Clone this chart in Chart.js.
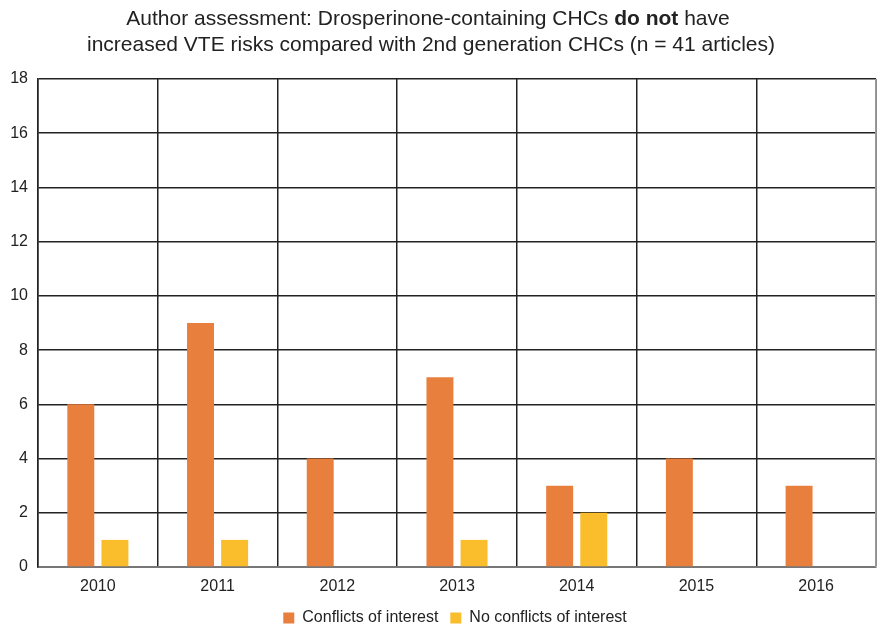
<!DOCTYPE html>
<html>
<head>
<meta charset="utf-8">
<script src="https://cdn.jsdelivr.net/npm/chart.js@4.4.1/dist/chart.umd.min.js"></script>
<style>
  html, body { margin: 0; padding: 0; background: #fff; }
  #wrap { width: 877px; height: 627px; }
</style>
</head>
<body>
<div id="wrap"><canvas id="grafico-vte" width="877" height="627"></canvas></div>
<script>
var years = ['2010', '2011', '2012', '2013', '2014', '2015', '2016'];
var conflictos = [6, 9, 4, 7, 3, 4, 3];
var sinConflictos = [1, 1, 0, 1, 2, 0, 0];
var yTicks = [0, 2, 4, 6, 8, 10, 12, 14, 16, 18];

var tituloLinea1 = ['Author assessment: Drosperinone-containing CHCs ', 'do not', ' have'];
var tituloLinea2 = 'increased VTE risks compared with 2nd generation CHCs (n = 41 articles)';

var fuente = "'Liberation Sans', Arial, Helvetica, sans-serif";

// titulo en dos lineas, con "do not" en negrita
var tituloPlugin = {
    id: 'tituloMixto',
    afterDraw: function (chart) {
        var ctx = chart.ctx;
        ctx.save();
        ctx.fillStyle = '#222';
        ctx.textBaseline = 'alphabetic';
        var normal = '21px ' + fuente;
        var negrita = 'bold 21px ' + fuente;
        var fonts = [normal, negrita, normal];
        var total = 0;
        for (var i = 0; i < tituloLinea1.length; i++) {
            ctx.font = fonts[i];
            total += ctx.measureText(tituloLinea1[i]).width;
        }
        var x = 428 - total / 2;
        for (var j = 0; j < tituloLinea1.length; j++) {
            ctx.font = fonts[j];
            ctx.textAlign = 'left';
            ctx.fillText(tituloLinea1[j], x, 25);
            x += ctx.measureText(tituloLinea1[j]).width;
        }
        ctx.font = normal;
        ctx.textAlign = 'center';
        ctx.fillText(tituloLinea2, 431, 51);
        ctx.restore();
    }
};

// leyenda mas abajo y centrada bajo el area del grafico
var leyendaPlugin = {
    id: 'moverLeyenda',
    afterLayout: function (chart) {
        var l = chart.legend;
        var dy = 598 - l.top;
        l.top += dy;
        l.bottom += dy;
        l.left += 17;
        l.right += 17;
    }
};

// borde derecho gris del area del grafico
var bordePlugin = {
    id: 'bordeDerecho',
    afterDatasetsDraw: function (chart) {
        var a = chart.chartArea;
        var ctx = chart.ctx;
        ctx.save();
        ctx.strokeStyle = '#999';
        ctx.lineWidth = 1;
        ctx.beginPath();
        ctx.moveTo(a.right - 0.5, a.top);
        ctx.lineTo(a.right - 0.5, a.bottom);
        ctx.stroke();
        ctx.restore();
    }
};

const ctx = document.getElementById('grafico-vte');
var myChart = new Chart(ctx, {
    type: 'bar',
    data: {
        labels: years,
        datasets: [{
            label: 'Conflicts of interest',
            data: conflictos,
            backgroundColor: '#E97F3D',
            categoryPercentage: 0.57,
            barPercentage: 0.79
        }, {
            label: 'No conflicts of interest',
            data: sinConflictos,
            backgroundColor: '#FABD2B',
            categoryPercentage: 0.57,
            barPercentage: 0.79
        }]
    },
    options: {
        responsive: false,
        animation: false,
        layout: {
            padding: { top: 79, right: 1, left: 0, bottom: -18 }
        },
        plugins: {
            title: { display: false },
            tooltip: { enabled: false },
            legend: {
                position: 'bottom',
                labels: {
                    boxWidth: 11,
                    boxHeight: 11,
                    padding: 12,
                    color: '#222',
                    font: { family: fuente, size: 16 }
                }
            }
        },
        scales: {
            x: {
                afterFit: function (axis) { axis.height = 40; },
                grid: { color: '#222', lineWidth: 1.5, drawTicks: false, offset: true },
                border: { color: '#777', width: 2 },
                ticks: { color: '#222', padding: 10, font: { family: fuente, size: 16 } }
            },
            y: {
                min: 0,
                max: 18,
                afterFit: function (axis) { axis.width = 38; },
                afterBuildTicks: function (axis) {
                    axis.ticks = yTicks.map(function (v) { return { value: v }; });
                },
                grid: { color: '#222', lineWidth: 1.5, drawTicks: false },
                border: { color: '#222', width: 1.5 },
                ticks: { color: '#222', padding: 10, font: { family: fuente, size: 16 } }
            }
        }
    },
    plugins: [tituloPlugin, leyendaPlugin, bordePlugin]
});
</script>
</body>
</html>
